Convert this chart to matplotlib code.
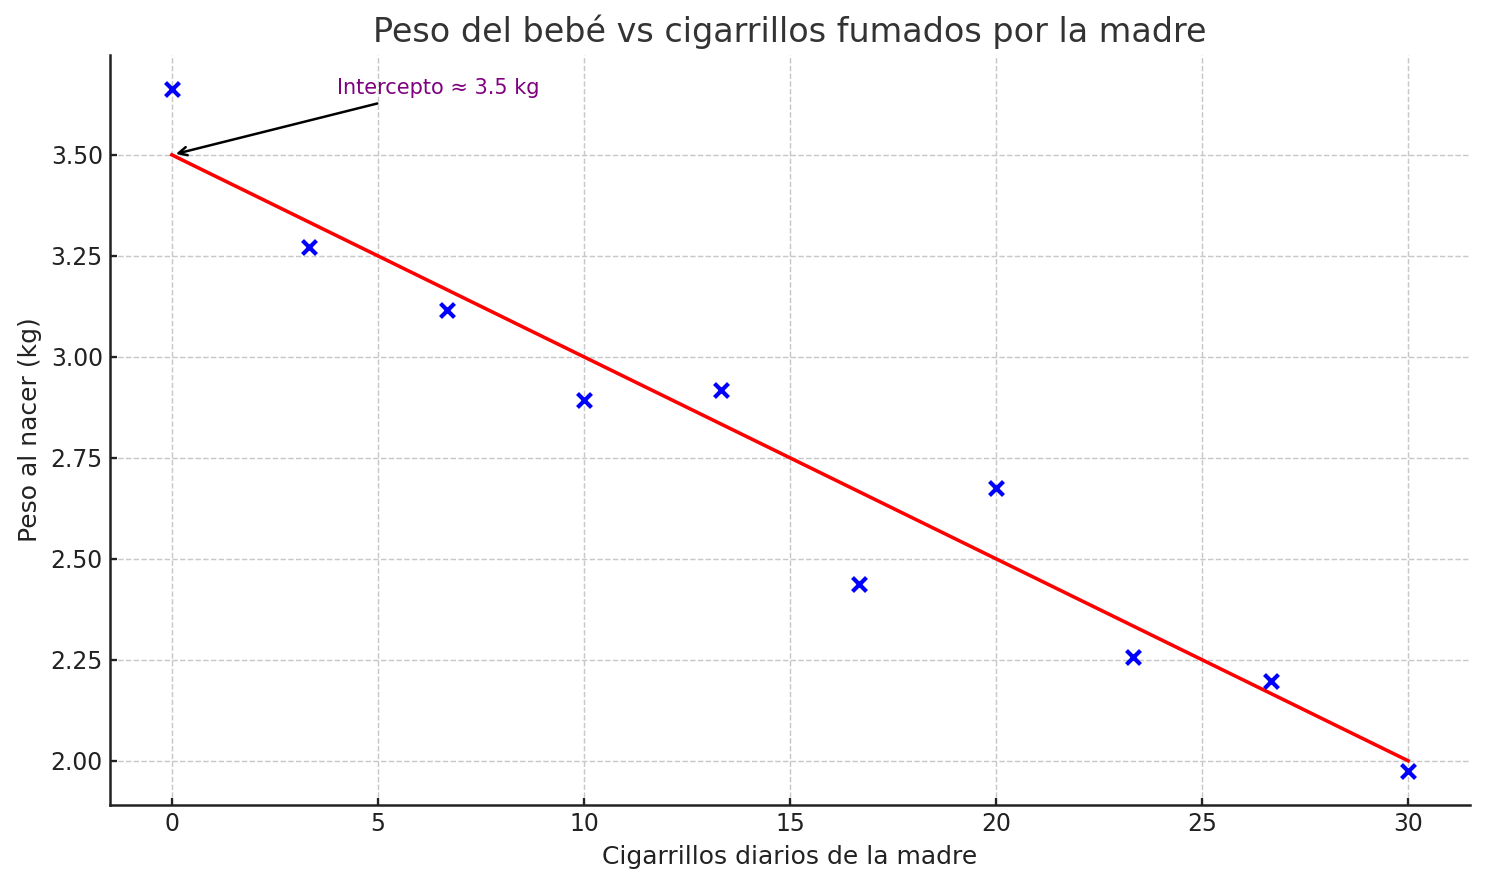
import matplotlib.pyplot as plt

# データ
cigarrillos = [0.0, 3.33, 6.67, 10.0, 13.33, 16.67, 20.0, 23.33, 26.67, 30.0]
peso = [3.663, 3.273, 3.115, 2.892, 2.919, 2.437, 2.675, 2.257, 2.198, 1.975]

# 回帰直線の端点
recta_x = [0, 30]
recta_y = [3.5, 2.0]

fig = plt.figure(figsize=(9.9, 5.9), dpi=150)
ax = fig.add_axes([0.0741, 0.0904, 0.9158, 0.8475])

ax.scatter(cigarrillos, peso, marker='x', color='blue', s=45, linewidths=2, zorder=3)
ax.plot(recta_x, recta_y, color='red', linewidth=1.7, zorder=2)

ax.annotate('Intercepto ≈ 3.5 kg', xy=(0, 3.5), xytext=(4, 3.65),
            fontsize=10, color='purple',
            arrowprops=dict(arrowstyle='->', color='black', lw=1.2))

ax.set_title('Peso del bebé vs cigarrillos fumados por la madre', fontsize=16, color='#333333')
ax.set_xlabel('Cigarrillos diarios de la madre', fontsize=12, color='#222222')
ax.set_ylabel('Peso al nacer (kg)', fontsize=12, color='#222222')
ax.tick_params(labelsize=11.3, width=1.1, length=3.5, direction='in',
               color='#222222', labelcolor='#222222')

ax.set_yticks([2.0, 2.25, 2.5, 2.75, 3.0, 3.25, 3.5])
ax.set_yticklabels(['2.00', '2.25', '2.50', '2.75', '3.00', '3.25', '3.50'])

ax.spines['top'].set_visible(False)
ax.spines['right'].set_visible(False)
for lado in ['left', 'bottom']:
    ax.spines[lado].set_linewidth(1.2)
    ax.spines[lado].set_color('#222222')
ax.grid(True, linestyle='--', color='#c8c8c8', linewidth=0.7)

plt.savefig('out.png', dpi=150)
